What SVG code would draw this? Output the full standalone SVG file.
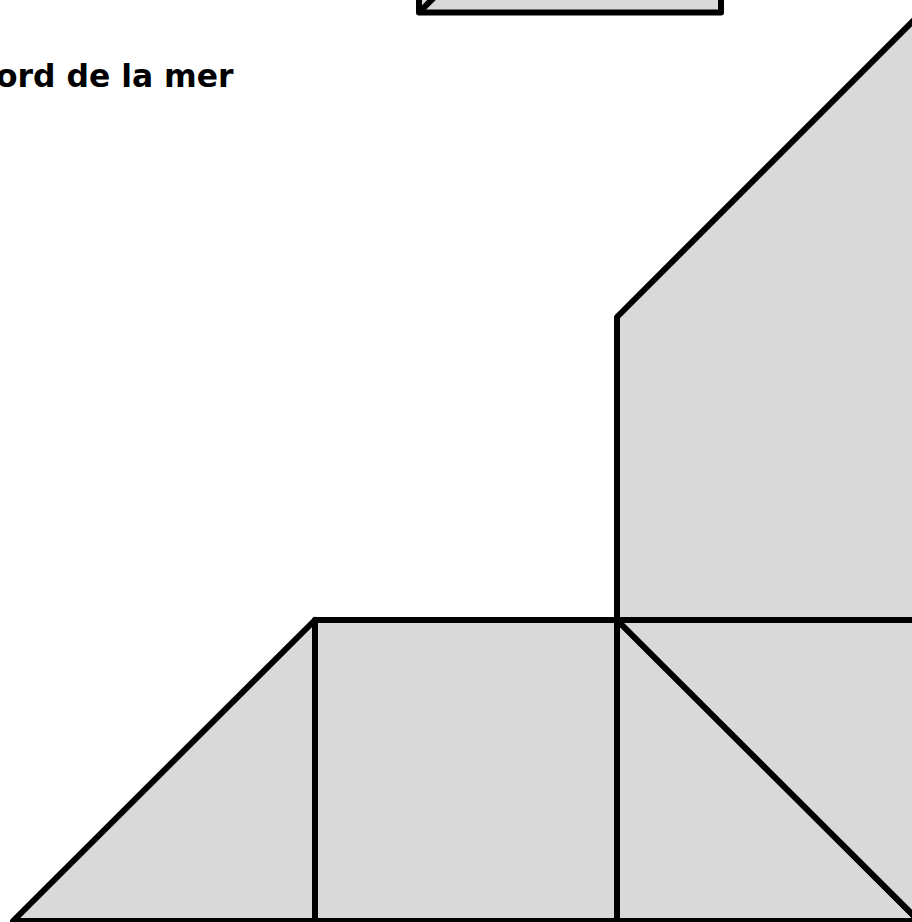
<svg xmlns="http://www.w3.org/2000/svg" width="912" height="922" viewBox="0 0 912 922">
<style>
.p{fill:#d9d9d9;stroke:#000;stroke-width:6;stroke-linejoin:round}
.t{font-family:"DejaVu Sans",Verdana,sans-serif;font-weight:bold;font-size:31.4px;fill:#000}
</style>
<rect width="912" height="922" fill="#fff"/>
<g id="top-piece">
<polygon class="p" points="419,-300 721,-300 721,12.5 419,12.5"/>
<line x1="419" y1="12.5" x2="721" y2="-289.5" stroke="#000" stroke-width="6"/>
</g>
<g id="title"><text class="t" x="-4" y="87.3">ord de la mer</text></g>
<g id="big-piece"><polygon class="p" points="617,620 617,317 1000,-66 1000,620"/></g>
<g id="left-triangle"><polygon class="p" points="13,921 315,620 315,921"/></g>
<g id="square"><polygon class="p" points="315,620 617,620 617,921 315,921"/></g>
<g id="lower-triangle"><polygon class="p" points="617,620 919,921 617,921"/></g>
<g id="upper-triangle"><polygon class="p" points="617,620 919,620 919,921"/></g>
</svg>
